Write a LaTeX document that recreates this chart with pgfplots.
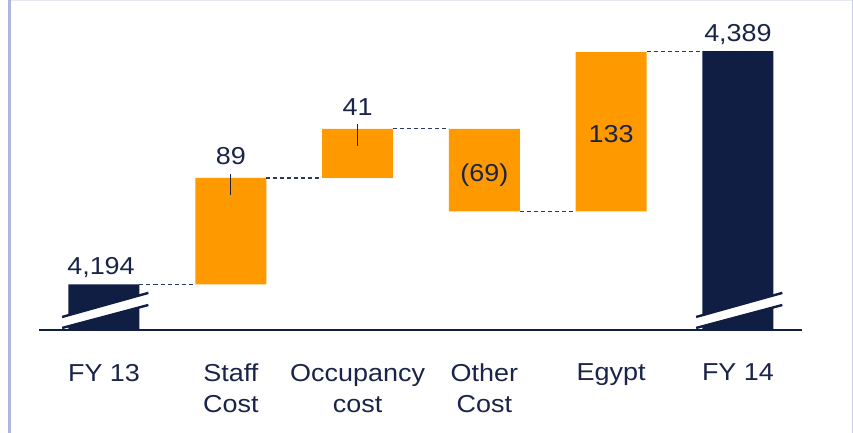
\documentclass[border=0pt]{standalone}
\usepackage{fontspec}
\setmainfont{Liberation Sans}[FakeStretch=1.1]
\usepackage{pgfplots}
\pgfplotsset{compat=1.18}
\definecolor{navybar}{RGB}{16,30,68}
\definecolor{navytext}{RGB}{26,36,72}
\definecolor{orangebar}{RGB}{255,153,0}
\definecolor{frameleft}{RGB}{176,180,222}
\definecolor{frametop}{RGB}{232,232,242}
\definecolor{dashcol}{RGB}{45,55,100}
\tikzset{conn/.style={dashcol, line width=1.1pt, dash pattern=on 4pt off 3pt},
  brk/.style={navybar, line width=2.4pt},
  vlab/.style={text=navytext, anchor=base, inner sep=0pt}}
\pgfplotsset{wf/.style={at={(39pt,103pt)}, anchor=south west, scale only axis,
    width=763pt, height=310pt,
    xmin=-0.5126, xmax=5.505, ymin=4156, ymax=4415}}

\begin{document}
\fontsize{24.5}{31}\selectfont
\begin{tikzpicture}
\useasboundingbox (0pt,0pt) rectangle (853pt,433pt);
% frame
\fill[frameleft] (8.3pt,0pt) rectangle (11pt,433pt);
\fill[frametop] (11pt,432pt) rectangle (853pt,433pt);
\fill[frameleft!70] (851.5pt,0pt) rectangle (852.5pt,433pt);
\begin{axis}[wf,
    ybar stacked, bar width=71pt,
    hide y axis, axis x line*=bottom,
    x axis line style={navybar, line width=2pt, -},
    xtick={0,1,2,3,4,5}, major tick length=0pt,
    xticklabels={FY 13,{Staff\\Cost},{Occupancy\\cost},{Other\\Cost},Egypt,FY 14},
    xticklabel style={align=center, text=navytext, anchor=north, inner sep=0pt, yshift=-34pt}]
% invisible base, totals, changes
\addplot[fill=white, draw=none, opacity=0] coordinates {(0,0) (1,4194) (2,4283) (3,4255) (4,4255) (5,0)};
\addplot[fill=navybar, draw=none] coordinates {(0,4194) (1,0) (2,0) (3,0) (4,0) (5,4389)};
\addplot[fill=orangebar, draw=none] coordinates {(0,0) (1,89) (2,41) (3,69) (4,133) (5,0)};
\end{axis}
% same frame again, for the marks on top of the bars
\begin{axis}[wf, hide axis, clip=false]
% connectors
\draw[conn] (axis cs:0.28,4194) -- (axis cs:0.72,4194);
\draw[conn] (axis cs:1.28,4283) -- (axis cs:1.72,4283);
\draw[conn] (axis cs:2.28,4324) -- (axis cs:2.72,4324);
\draw[conn] (axis cs:3.28,4255) -- (axis cs:3.72,4255);
\draw[conn] (axis cs:4.28,4388.5) -- (axis cs:4.72,4388.5);

% axis breaks
\fill[white] (axis cs:-0.33,4157.7) -- (axis cs:0.35,4176.9) -- (axis cs:0.35,4187) -- (axis cs:-0.33,4166.9) -- cycle;
\draw[brk] (axis cs:-0.33,4166.9) -- (axis cs:0.35,4187);
\draw[brk] (axis cs:-0.33,4157.7) -- (axis cs:0.35,4176.9);
\fill[white] (axis cs:4.67,4157.7) -- (axis cs:5.35,4176.9) -- (axis cs:5.35,4187) -- (axis cs:4.67,4166.9) -- cycle;
\draw[brk] (axis cs:4.67,4166.9) -- (axis cs:5.35,4187);
\draw[brk] (axis cs:4.67,4157.7) -- (axis cs:5.35,4176.9);

% value ticks
\draw[navytext, line width=1.4pt] (axis cs:1,4286.3) -- (axis cs:1,4268.8);
\draw[navytext, line width=1.4pt] (axis cs:2,4328.2) -- (axis cs:2,4310);

% value labels
\node[vlab, xshift=-3pt, yshift=10pt] at (axis cs:0,4194) {4,194};
\node[vlab, yshift=13pt] at (axis cs:1,4283) {89};
\node[vlab, yshift=13pt] at (axis cs:2,4324) {41};
\node[vlab] at (axis cs:3,4280) {(69)};
\node[vlab] at (axis cs:4,4312.7) {133};
\node[vlab, yshift=10pt] at (axis cs:5,4389) {4,389};
\end{axis}
\end{tikzpicture}
\end{document}
